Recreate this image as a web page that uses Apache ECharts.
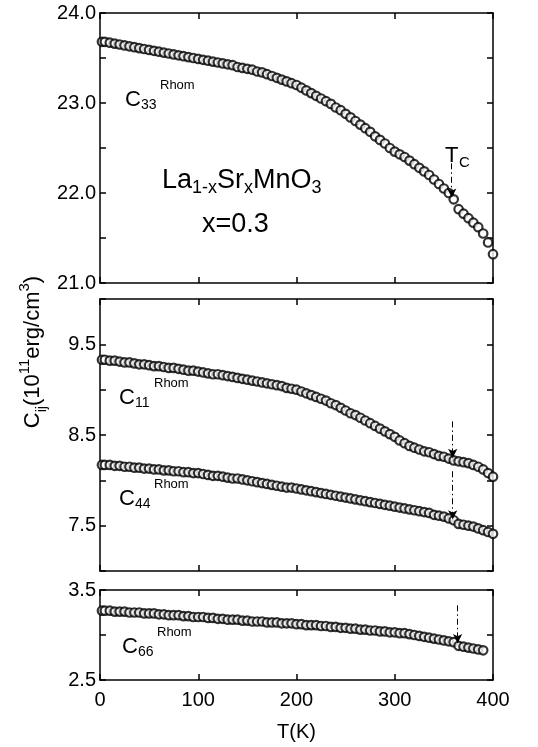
<!DOCTYPE html>
<html>
<head>
<meta charset="utf-8">
<script src="https://cdn.jsdelivr.net/npm/echarts@6/dist/echarts.min.js"></script>
<style>
html,body{margin:0;padding:0;background:#fff;}
#chart{width:538px;height:747px;}
</style>
</head>
<body>
<div id="chart"></div>
<script>
// Temperature (K)
const temps = [2,5,10,15,20,25,30,35,40,45,50,55,60,65,70,75,80,85,90,95,100,105,110,115,120,125,130,135,140,145,150,155,160,165,170,175,180,185,190,195,200,205,210,215,220,225,230,235,240,245,250,255,260,265,270,275,280,285,290,295,300,305,310,315,320,325,330,335,340,345,350,355,360,365,370,375,380,385,390,395,400];
// C33 Rhom (10^11 erg/cm^3)
const c33 = [23.68,23.68,23.67,23.66,23.65,23.64,23.63,23.62,23.61,23.60,
  23.59,23.58,23.57,23.56,23.55,23.54,23.53,23.52,23.51,23.50,
  23.49,23.48,23.47,23.46,23.45,23.44,23.43,23.42,23.40,23.39,
  23.38,23.37,23.35,23.34,23.32,23.30,23.28,23.26,23.24,23.22,
  23.20,23.17,23.14,23.11,23.08,23.05,23.02,22.99,22.95,22.92,
  22.88,22.84,22.80,22.76,22.72,22.68,22.63,22.59,22.55,22.50,
  22.46,22.43,22.40,22.36,22.32,22.28,22.24,22.20,22.15,22.10,
  22.05,22.00,21.93,21.82,21.77,21.72,21.67,21.62,21.55,21.45,
  21.32];
// C11 Rhom
const c11 = [9.33,9.33,9.32,9.32,9.31,9.30,9.30,9.29,9.28,9.28,
  9.27,9.26,9.26,9.25,9.24,9.24,9.23,9.22,9.21,9.21,
  9.20,9.19,9.18,9.17,9.17,9.16,9.15,9.14,9.13,9.12,
  9.11,9.10,9.09,9.08,9.07,9.06,9.05,9.04,9.02,9.01,
  9.00,8.98,8.96,8.94,8.92,8.90,8.88,8.85,8.83,8.80,
  8.77,8.74,8.72,8.69,8.66,8.63,8.60,8.57,8.54,8.51,
  8.48,8.44,8.41,8.38,8.36,8.34,8.32,8.31,8.29,8.27,
  8.26,8.24,8.22,8.21,8.20,8.19,8.17,8.15,8.12,8.08,
  8.04];
// C44 Rhom
const c44 = [8.17,8.17,8.17,8.16,8.16,8.15,8.15,8.14,8.14,8.13,
  8.13,8.12,8.12,8.11,8.11,8.10,8.10,8.09,8.09,8.08,
  8.08,8.07,8.06,8.05,8.05,8.04,8.03,8.02,8.02,8.01,
  8.00,7.99,7.98,7.97,7.96,7.95,7.94,7.93,7.92,7.92,
  7.91,7.90,7.89,7.88,7.87,7.86,7.85,7.84,7.83,7.82,
  7.81,7.80,7.79,7.78,7.77,7.76,7.75,7.74,7.73,7.72,
  7.71,7.70,7.69,7.68,7.67,7.66,7.65,7.64,7.62,7.61,
  7.60,7.58,7.56,7.52,7.51,7.50,7.49,7.47,7.45,7.43,
  7.41];
// C66 Rhom (measured up to 390 K)
const c66 = [3.27,3.27,3.27,3.26,3.26,3.26,3.25,3.25,3.25,3.24,
  3.24,3.24,3.23,3.23,3.22,3.22,3.22,3.21,3.21,3.20,
  3.20,3.20,3.19,3.19,3.18,3.18,3.17,3.17,3.17,3.16,
  3.16,3.15,3.15,3.15,3.14,3.14,3.14,3.13,3.13,3.13,
  3.12,3.12,3.11,3.11,3.11,3.10,3.10,3.09,3.09,3.08,
  3.08,3.07,3.07,3.06,3.06,3.05,3.05,3.04,3.04,3.03,
  3.03,3.02,3.02,3.01,3.00,2.99,2.98,2.97,2.96,2.95,
  2.94,2.93,2.92,2.88,2.87,2.86,2.85,2.84,2.83];
// x tick labels
const xTicks = [0,100,200,300,400];
// Tc arrows: [T, from, to]
const arrowC33 = [358, 22.33, 21.95];
const arrowC11 = [359, 8.65, 8.25];
const arrowC44 = [359, 8.10, 7.57];
const arrowC66 = [364, 3.33, 2.91];

const FONT = 'Liberation Sans, Arial, Helvetica, sans-serif';
const chart = echarts.init(document.getElementById('chart'), null, {renderer: 'canvas'});

function pairs(vals){ return vals.map((v,i)=>[temps[i], v]); }

const grids = [
  {left:100, right:45, top:13, height:270},
  {left:100, right:45, top:299, height:272},
  {left:100, right:45, top:590, height:90}
];
const lineStyle = {color:'#000', width:1.5};
const xAxes = [], yAxes = [];
const yCfg = [
  {min:21, max:24, fmt:v => Math.abs(v - Math.round(v)) < 1e-6 ? v.toFixed(1) : ''},
  {min:7, max:10, fmt:v => Math.abs((v - Math.floor(v)) - 0.5) < 1e-6 ? v.toFixed(1) : ''},
  {min:2.5, max:3.5, fmt:v => (Math.abs(v-2.5)<1e-6 || Math.abs(v-3.5)<1e-6) ? v.toFixed(1) : ''}
];
for (let g=0; g<3; g++){
  ['bottom','top'].forEach((pos, k) => {
    xAxes.push({
      type:'value', gridIndex:g, position:pos, min:0, max:400, interval:100,
      axisLine:{show:true, onZero:false, lineStyle},
      axisTick:{show:true, inside:true, length:6, lineStyle},
      axisLabel:{show: g===2 && k===0, color:'#000', fontSize:20, fontFamily:FONT, margin:10,
        formatter: v => xTicks.indexOf(v) >= 0 ? String(v) : ''},
      splitLine:{show:false},
      name: (g===2 && k===0) ? 'T(K)' : '',
      nameLocation:'middle', nameGap:42,
      nameTextStyle:{color:'#000', fontSize:20, fontFamily:FONT}
    });
  });
  ['left','right'].forEach((pos, k) => {
    yAxes.push({
      type:'value', gridIndex:g, position:pos, min:yCfg[g].min, max:yCfg[g].max, interval:0.5,
      axisLine:{show:true, onZero:false, lineStyle},
      axisTick:{show:true, inside:true, length:6, lineStyle},
      axisLabel:{show: k===0, color:'#000', fontSize:20, fontFamily:FONT, margin:4, formatter:yCfg[g].fmt,
        showMinLabel:true, showMaxLabel:true},
      splitLine:{show:false}
    });
  });
}

function arrowLine(a){
  return {
    silent:true, symbol:['none','arrow'], symbolSize:[7,9],
    label:{show:false},
    lineStyle:{color:'#000', width:1, type:[6,3,1.5,3]},
    data:[[{coord:[a[0], a[1]]},{coord:[a[0], a[2]]}]]
  };
}
const sym = {color:'#fff', borderColor:'#000', borderWidth:2.2};
function series(vals, idx, arrow){
  return {
    type:'scatter', xAxisIndex:idx, yAxisIndex:idx, data:pairs(vals),
    symbol:'circle', symbolSize:8.5, itemStyle:sym, silent:true,
    markLine: arrowLine(arrow), z:3
  };
}

// label helper: text placed by its baseline
function txt(x, baseline, text, size){
  return {type:'text', x:x, y:baseline + size*0.16, style:{text:text, fill:'#000', font: size+'px ' + FONT, textAlign:'left', textVerticalAlign:'bottom', verticalAlign:'bottom'}};
}
function cLabel(x, b, sub){
  return [txt(x, b, 'C', 22), txt(x+16, b+3, sub, 14), txt(x+35, b-17, 'Rhom', 13)];
}

const graphics = [].concat(
  cLabel(125, 107, '33'),
  cLabel(119, 405, '11'),
  cLabel(119, 506, '44'),
  cLabel(122, 654, '66'),
  [
    {type:'text', x:162, y:197, style:{
      text:'{m|La}{s|1-x}{m|Sr}{s|x}{m|MnO}{s|3}', textAlign:'left', textVerticalAlign:'bottom', verticalAlign:'bottom',
      rich:{
        m:{fontSize:27, fontFamily:FONT, fill:'#000', color:'#000', lineHeight:32},
        s:{fontSize:18, fontFamily:FONT, fill:'#000', color:'#000', lineHeight:16, verticalAlign:'bottom'}
      }}},
    txt(202, 234, 'x=0.3', 27),
    txt(445, 163, 'T', 22),
    txt(459, 168, 'C', 15),
    {type:'text', x:33, y:352, rotation:Math.PI/2, style:{
      text:'{m|C}{s|ij}{m|(10}{p|11}{m|erg/cm}{p|3}{m|)}', textAlign:'center', textVerticalAlign:'middle', verticalAlign:'middle',
      rich:{
        m:{fontSize:22, fontFamily:FONT, color:'#000', fill:'#000', lineHeight:32},
        s:{fontSize:14, fontFamily:FONT, color:'#000', fill:'#000', lineHeight:16, verticalAlign:'bottom'},
        p:{fontSize:15, fontFamily:FONT, color:'#000', fill:'#000', lineHeight:16, verticalAlign:'top'}
      }}}
  ]
);

chart.setOption({
  animation:false,
  backgroundColor:'#fff',
  grid:grids,
  xAxis:xAxes,
  yAxis:yAxes,
  series:[
    series(c33, 0, arrowC33),
    series(c11, 2, arrowC11),
    series(c44, 2, arrowC44),
    series(c66, 4, arrowC66)
  ],
  graphic:graphics
});
</script>
</body>
</html>
